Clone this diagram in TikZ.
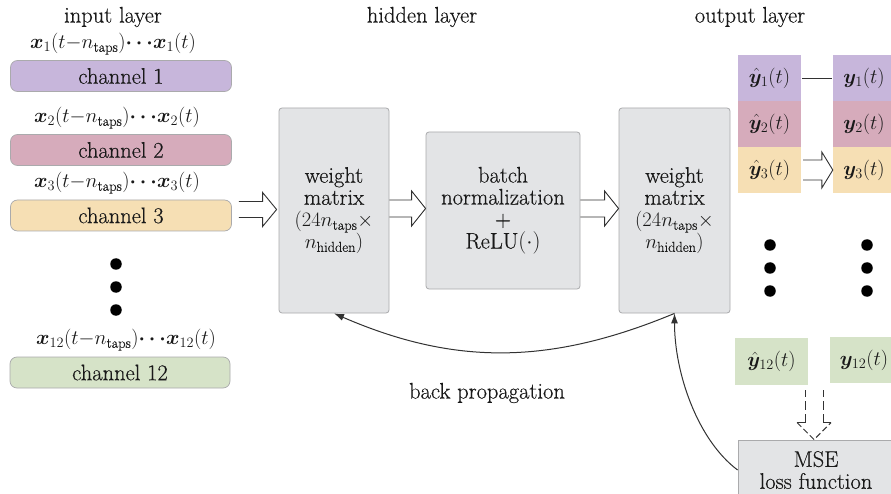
\RequirePackage{fix-cm}
\documentclass[tikz,border=0pt]{standalone}
\usepackage{amsmath,bm}
\usepackage{fontspec}
\setmainfont{Latin Modern Roman}[FakeBold=0.4]
\usetikzlibrary{arrows.meta,calc}
\definecolor{cpurple}{RGB}{199,182,219}
\definecolor{cpink}{RGB}{214,171,187}
\definecolor{corange}{RGB}{246,223,180}
\definecolor{cgreen}{RGB}{214,227,200}
\definecolor{cgray}{RGB}{227,228,230}
\definecolor{cborder}{RGB}{170,170,172}
\definecolor{ctext}{RGB}{25,25,25}
\definecolor{cline}{RGB}{50,50,50}
\newcommand\mfs{\fontsize{20.5}{22}\selectfont}
\newcommand\xlab[1]{{\mfs$\bm{x}_{#1}(t{-}n_{\mathrm{taps}})\bm{\cdots}\bm{x}_{#1}(t)$}}
\newcommand\blockarrow[5]{\draw[blk] let \p1=#1, \p2=#2 in
  (\x1,\y2+#3) -- (\x2-#5,\y2+#3) -- (\x2-#5,\y2+#4) -- (\x2,\y2)
  -- (\x2-#5,\y2-#4) -- (\x2-#5,\y2-#3) -- (\x1,\y2-#3);}
\tikzset{
  lbl/.style={inner sep=0pt, text=ctext},
  chan/.style={draw=cborder, line width=0.7pt, fill=#1, rounded corners=7pt,
    minimum width=221, minimum height=31, inner sep=0pt, text=ctext},
  gbox/.style={draw=cborder, line width=0.8pt, fill=cgray, rounded corners=3pt,
    inner sep=0pt, align=center, text=ctext},
  ocell/.style={fill=#1, inner sep=0pt, text=ctext, font=\mfs},
  dotn/.style={circle, fill=black, minimum size=11.5, inner sep=0pt},
  blk/.style={draw=cline, line width=0.9pt, line join=miter},
  conn/.style={draw=cline, line width=0.9pt},
  dsh/.style={draw=cline, line width=0.9pt, dash pattern=on 9pt off 4pt},
  bp/.style={draw=cline, line width=1pt, -{Latex[length=10pt,width=7pt]}},
}
\begin{document}
\begin{tikzpicture}[x=1pt,y=-1pt,font=\fontsize{22.5}{22}\selectfont]
\clip (0,0) rectangle (891,494);
\fill[white] (0,0) rectangle (891,494);

% headers
\node[lbl] (hin) at (113,17) {input layer};
\node[lbl] (hhid) at (422,17) {hidden layer};
\node[lbl] (hout) at (750,17) {output layer};

% input channels
\node[lbl] (l1) at (113,44) {\xlab{1}};
\node[chan=cpurple] (c1) at (121,76) {channel 1};
\node[lbl] (l2) at (117,118) {\xlab{2}};
\node[chan=cpink] (c2) at (121,150) {channel 2};
\node[lbl] (l3) at (117,183) {\xlab{3}};
\node[chan=corange] (c3) at (121,215.5) {channel 3};
\node[dotn] (da) at (116,264) {};
\node[dotn] (db) at (116,287) {};
\node[dotn] (dc) at (116,310) {};
\node[lbl] (l12) at (126,340) {\xlab{12}};
\node[chan=cgreen, minimum width=220] (c12) at (120,372.5) {channel 12};

% hidden layer
\node[gbox, minimum width=110, minimum height=205] (w1) at (334,210.5)
  {weight\\matrix\\{\mfs$(24n_{\mathrm{taps}}\times$}\\{\mfs$n_{\mathrm{hidden}})$}};
\node[gbox, minimum width=154, minimum height=157] (bn) at (503,210.5)
  {batch\\normalization\\+\\ReLU$(\cdot)$};
\node[gbox, minimum width=111, minimum height=205] (w2) at (674.5,210.5)
  {weight\\matrix\\{\mfs$(24n_{\mathrm{taps}}\times$}\\{\mfs$n_{\mathrm{hidden}})$}};

\blockarrow{($(c3.east)+(7,0)$)}{($(w1.west)+(-2,-1)$)}{8pt}{17pt}{14pt}
\blockarrow{(w1.east)}{($(bn.west)+(0,-2)$)}{8.5pt}{17.5pt}{14pt}
\blockarrow{(bn.east)}{($(w2.west)+(0,-2)$)}{8.5pt}{17.5pt}{14pt}

% output layer
\node[ocell=cpurple, minimum width=63, minimum height=46] (yh1) at (769.5,78) {$\hat{\bm{y}}_{1}(t)$};
\node[ocell=cpink, minimum width=63, minimum height=46] (yh2) at (769.5,124) {$\hat{\bm{y}}_{2}(t)$};
\node[ocell=corange, minimum width=63, minimum height=46] (yh3) at (769.5,170) {$\hat{\bm{y}}_{3}(t)$};
\node[ocell=cpurple, minimum width=62, minimum height=46] (y1) at (864,78) {$\bm{y}_{1}(t)$};
\node[ocell=cpink, minimum width=62, minimum height=46] (y2) at (864,124) {$\bm{y}_{2}(t)$};
\node[ocell=corange, minimum width=62, minimum height=46] (y3) at (864,170) {$\bm{y}_{3}(t)$};

\draw[conn] ($(yh1.east)+(1,0)$) -- ($(y1.west)+(-1,0)$);
\blockarrow{($(yh3.east)+(2,0)$)}{(y3.west)}{10pt}{18pt}{11pt}

\node[dotn] (oa) at (770,245) {};
\node[dotn] (ob) at (770,268) {};
\node[dotn] (oc) at (770,291) {};
\node[dotn] (pa) at (867,245) {};
\node[dotn] (pb) at (867,268) {};
\node[dotn] (pc) at (867,291) {};

\node[ocell=cgreen, minimum width=73, minimum height=47] (yh12) at (771.5,361.5) {$\hat{\bm{y}}_{12}(t)$};
\node[ocell=cgreen, minimum width=68, minimum height=46] (y12) at (864,360) {$\bm{y}_{12}(t)$};

\node[gbox, rounded corners=0pt, minimum width=156, minimum height=60] (mse) at (816,470)
  {MSE\\loss function};

% dashed hollow arrow into MSE
\coordinate (tip) at ($(mse.north)+(-2,0)$);
\draw[dsh] ($(tip)+(-9,-17)$) -- ($(tip)+(-9,-50)$);
\draw[dsh] ($(tip)+(9,-17)$) -- ($(tip)+(9,-50)$);
\draw[dsh] ($(tip)+(-17,-17)$) -- ($(tip)+(-9,-17)$);
\draw[dsh] ($(tip)+(17,-17)$) -- ($(tip)+(9,-17)$);
\draw[dsh, dash pattern=on 6pt off 3pt] ($(tip)+(-17,-17)$) -- (tip) -- ($(tip)+(17,-17)$);

% back propagation
\draw[bp] (w2.south) .. controls +(-125,52) and +(120,52) .. (w1.south);
\draw[bp] (mse.west) .. controls +(-40,-30) and +(0,60) .. (w2.south);
\node[lbl] (bpl) at (487,393) {back propagation};
\end{tikzpicture}
\end{document}
